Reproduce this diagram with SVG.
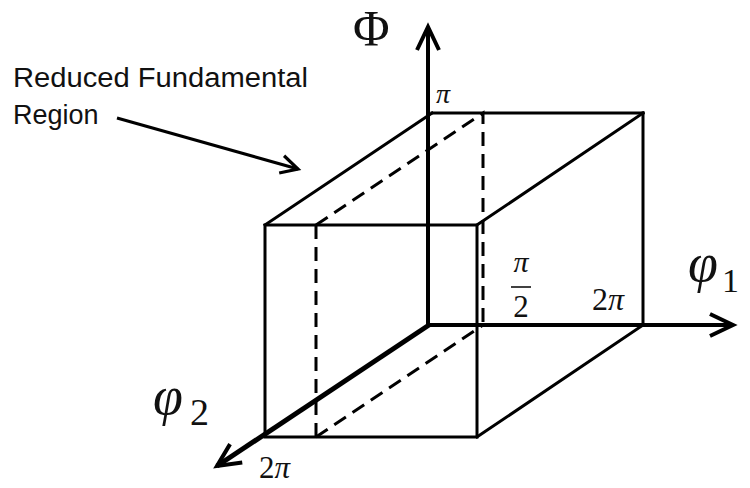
<svg xmlns="http://www.w3.org/2000/svg" width="750" height="488" viewBox="0 0 750 488">
  <style>
    .edge { stroke: #000; stroke-width: 3; fill: none; stroke-linecap: square; }
    .dash { stroke: #000; stroke-width: 3; fill: none; stroke-dasharray: 14 8; }
    .axis { stroke: #000; fill: none; }
    .lbl { font-family: "Liberation Sans", Arial, sans-serif; font-size: 27px; fill: #111; }
    .math { font-family: "Liberation Serif", "Times New Roman", serif; fill: #111; }
    .phi { font-family: "Liberation Serif", "Times New Roman", serif; font-style: italic; fill: #111; }
    .it { font-style: italic; }
  </style>
  <defs>
    <marker id="chev" markerUnits="userSpaceOnUse" markerWidth="34" markerHeight="34" viewBox="-28 -17 34 34" refX="0" refY="0" orient="auto">
      <path d="M-23,-11 L0,0 L-23,11" fill="none" stroke="#000" stroke-width="4" stroke-linejoin="miter" stroke-miterlimit="4"/>
    </marker>
    <marker id="chevS" markerUnits="userSpaceOnUse" markerWidth="30" markerHeight="30" viewBox="-24 -15 30 30" refX="0" refY="0" orient="auto">
      <path d="M-17,-9 L0,0 L-17,9" fill="none" stroke="#000" stroke-width="3.2" stroke-linejoin="miter" stroke-miterlimit="4"/>
    </marker>
  </defs>

  <g id="cube">
    <rect class="edge" x="265" y="225" width="212" height="212"/>
    <line class="edge" x1="265" y1="225" x2="432" y2="113"/>
    <line class="edge" x1="432" y1="113" x2="643" y2="113"/>
    <line class="edge" x1="643" y1="113" x2="643" y2="325"/>
    <line class="edge" x1="643" y1="113" x2="477" y2="225"/>
    <line class="edge" x1="643" y1="325" x2="477" y2="437"/>
  </g>

  <g id="reduced-region">
    <path class="dash" d="M316,225 L483,113 L483,325"/>
    <path class="dash" d="M316,225 L316,444"/>
    <path class="dash" d="M316,437 L483,325"/>
  </g>

  <g id="connectors">
    <line class="axis" x1="428" y1="325" x2="428" y2="27" stroke-width="4" marker-end="url(#chev)"/>
    <line class="axis" x1="426" y1="325" x2="733" y2="325" stroke-width="4" marker-end="url(#chev)"/>
    <line class="axis" x1="429" y1="325" x2="217" y2="466" stroke-width="5" marker-end="url(#chev)"/>
    <line class="axis" x1="117" y1="118" x2="298" y2="169" stroke-width="3" marker-end="url(#chevS)"/>
  </g>

  <g id="label-region">
    <text class="lbl" x="13" y="87" textLength="295" lengthAdjust="spacingAndGlyphs">Reduced Fundamental</text>
    <text class="lbl" x="13" y="124">Region</text>
  </g>

  <g id="label-Phi">
    <text class="math" x="353" y="45" font-size="50">Φ</text>
    <text class="math it" x="436" y="103" font-size="28">π</text>
  </g>

  <g id="label-phi1">
    <text class="phi" x="688" y="281" font-size="54">φ</text>
    <text class="math" x="722" y="292" font-size="34">1</text>
    <text class="math" x="592" y="310" font-size="32">2<tspan class="it">π</tspan></text>
    <text class="math it" x="521" y="272" font-size="30" text-anchor="middle">π</text>
    <line x1="511" y1="287" x2="531" y2="287" stroke="#111" stroke-width="1.6"/>
    <text class="math" x="521" y="317" font-size="31" text-anchor="middle">2</text>
  </g>

  <g id="label-phi2">
    <text class="phi" x="153" y="414" font-size="54">φ</text>
    <text class="math" x="190" y="425" font-size="38">2</text>
    <text class="math" x="259" y="478" font-size="31">2<tspan class="it">π</tspan></text>
  </g>
</svg>
